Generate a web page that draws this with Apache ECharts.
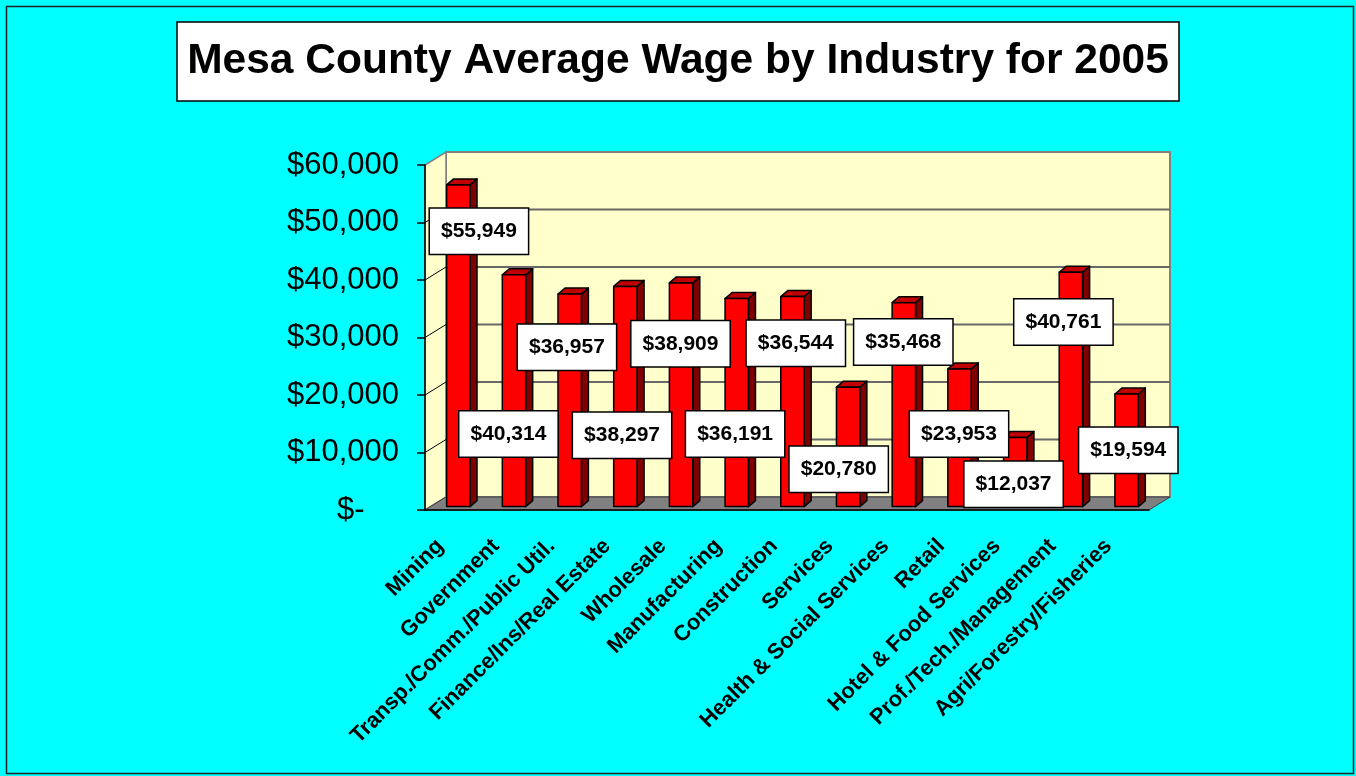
<!DOCTYPE html>
<html>
<head>
<meta charset="utf-8">
<title>Mesa County Average Wage by Industry for 2005</title>
<script src="https://cdn.jsdelivr.net/npm/echarts@6/dist/echarts.min.js"></script>
<style>
html, body { margin: 0; padding: 0; background: #00ffff; }
#main { width: 1356px; height: 776px; }
</style>
</head>
<body>
<div id="main"></div>
<script>
var industries = ['Mining', 'Government', 'Transp./Comm./Public Util.', 'Finance/Ins/Real Estate',
    'Wholesale', 'Manufacturing', 'Construction', 'Services', 'Health & Social Services',
    'Retail', 'Hotel & Food Services', 'Prof./Tech./Management', 'Agri/Forestry/Fisheries'];
var wages = [55949, 40314, 36957, 38297, 38909, 36191, 36544, 20780, 35468, 23953, 12037, 40761, 19594];
var yTicks = [0, 10000, 20000, 30000, 40000, 50000, 60000];

// where each value box sits: height in axis units, sideways nudge in bands
var labelAt = [48500, 13200, 28300, 13000, 28900, 13200, 29000, 7100, 29200, 13200, 4500, 32700, 10400];
var labelNudge = [0.37, -0.1, -0.05, -0.06, -0.01, -0.03, 0.06, -0.17, -0.01, -0.01, -0.03, -0.135, 0.03];

var FONT = '"Liberation Sans", Arial, sans-serif';
var DX = 21, DY = -13;      // depth of the 3d box
var BAR_OFF = 0.26;         // bars stand a bit behind the front edge
var SX = 7, SY = -6;        // bar depth

function money(v) {
    if (v === 0) return '$-    ';
    return '$' + v.toLocaleString('en-US');
}

function renderFrame(params, api) {
    var cs = params.coordSys;
    var x0 = cs.x, x1 = cs.x + cs.width, yT = cs.y, yB = cs.y + cs.height;
    var kids = [];
    kids.push({ type: 'polygon',
        shape: { points: [[x0 + DX, yT + DY], [x1 + DX, yT + DY], [x1 + DX, yB + DY], [x0 + DX, yB + DY]] },
        style: { fill: '#ffffcc', stroke: '#808080', lineWidth: 2 } });
    kids.push({ type: 'polygon',
        shape: { points: [[x0, yB], [x0 + DX, yB + DY], [x0 + DX, yT + DY], [x0, yT]] },
        style: { fill: '#ffffcc', stroke: '#808080', lineWidth: 1.5 } });
    yTicks.forEach(function (v) {
        if (v === 0 || v === 60000) return;
        var y = api.coord([0, v])[1];
        kids.push({ type: 'line', shape: { x1: x0 + DX, y1: y + DY, x2: x1 + DX, y2: y + DY },
            style: { stroke: '#686868', lineWidth: 2 } });
        kids.push({ type: 'line', shape: { x1: x0, y1: y, x2: x0 + DX, y2: y + DY },
            style: { stroke: '#000', lineWidth: 1 } });
    });
    kids.push({ type: 'polygon',
        shape: { points: [[x0, yB], [x1, yB], [x1 + DX, yB + DY], [x0 + DX, yB + DY]] },
        style: { fill: '#808080', stroke: '#404040', lineWidth: 1 } });
    return { type: 'group', children: kids };
}

function renderBar(params, api) {
    var i = api.value(0), v = api.value(1);
    var base = api.coord([i, 0]), top = api.coord([i, v]);
    var w = api.size([1, 0])[0] * 0.42;
    var xl = base[0] - w / 2 + DX * BAR_OFF, xr = xl + w;
    var yb = base[1] + DY * BAR_OFF, yt = top[1] + DY * BAR_OFF;
    var edge = { stroke: '#000', lineWidth: 1.5, lineJoin: 'round' };
    return { type: 'group', children: [
        { type: 'polygon', shape: { points: [[xr, yt], [xr + SX, yt + SY], [xr + SX, yb + SY], [xr, yb]] },
          style: Object.assign({ fill: '#800000' }, edge) },
        { type: 'polygon', shape: { points: [[xl, yt], [xl + SX, yt + SY], [xr + SX, yt + SY], [xr, yt]] },
          style: Object.assign({ fill: '#c00000' }, edge) },
        { type: 'rect', shape: { x: xl, y: yt, width: w, height: yb - yt },
          style: Object.assign({ fill: '#ff0000' }, edge) }
    ] };
}

function renderLabel(params, api) {
    var i = api.value(0);
    var p = api.coord([i, api.value(1)]);
    var bw = api.size([1, 0])[0];
    return { type: 'text', x: p[0] + DX * BAR_OFF + labelNudge[i] * bw, y: p[1],
        style: { text: money(wages[i]), font: 'bold 21px ' + FONT, fill: '#000',
            align: 'center', verticalAlign: 'middle',
            backgroundColor: '#fff', borderColor: '#000', borderWidth: 1.5, padding: [12, 11] } };
}

window.addEventListener('load', function () {
    var chart = echarts.init(document.getElementById('main'));
    var option = {
        backgroundColor: '#00ffff',
        animation: false,
        title: {
            text: 'Mesa County Average Wage by Industry for 2005',
            left: 'center', top: 22,
            padding: [18, 10],
            backgroundColor: '#fff', borderColor: '#000', borderWidth: 1.5,
            textStyle: { fontSize: 42.5, fontWeight: 'bold', color: '#000', fontFamily: FONT }
        },
        graphic: [{
            type: 'rect', left: 4, top: 4, silent: true,
            shape: { width: 1347, height: 767 },
            style: { fill: 'none', stroke: '#222', lineWidth: 1.5 }
        }],
        grid: { left: 425, right: 207, top: 165, bottom: 266 },
        xAxis: {
            type: 'category', data: industries, z: 10,
            axisLine: { lineStyle: { color: '#000', width: 1.5 } },
            axisTick: { length: 8, lineStyle: { color: '#000', width: 1.5 } },
            axisLabel: { interval: 0, rotate: 45, margin: 20, padding: [0, 18, 0, 0],
                fontSize: 22, fontWeight: 'bold', color: '#000', fontFamily: FONT }
        },
        yAxis: {
            type: 'value', min: 0, max: 60000, interval: 10000, z: 10,
            axisLine: { show: true, lineStyle: { color: '#000', width: 1.5 } },
            axisTick: { show: true, length: 8, lineStyle: { color: '#000', width: 1.5 } },
            splitLine: { show: false },
            axisLabel: { margin: 26, fontSize: 31, color: '#000', fontFamily: FONT, formatter: money }
        },
        series: [
            { type: 'custom', z: 1, clip: false, silent: true, data: [[0, 0]], renderItem: renderFrame },
            { type: 'custom', z: 2, clip: false, silent: true,
              data: wages.map(function (v, i) { return [i, v]; }), renderItem: renderBar },
            { type: 'custom', z: 3, clip: false, silent: true,
              data: labelAt.map(function (v, i) { return [i, v]; }), renderItem: renderLabel }
        ]
    };
    chart.setOption(option);
});
</script>
</body>
</html>
